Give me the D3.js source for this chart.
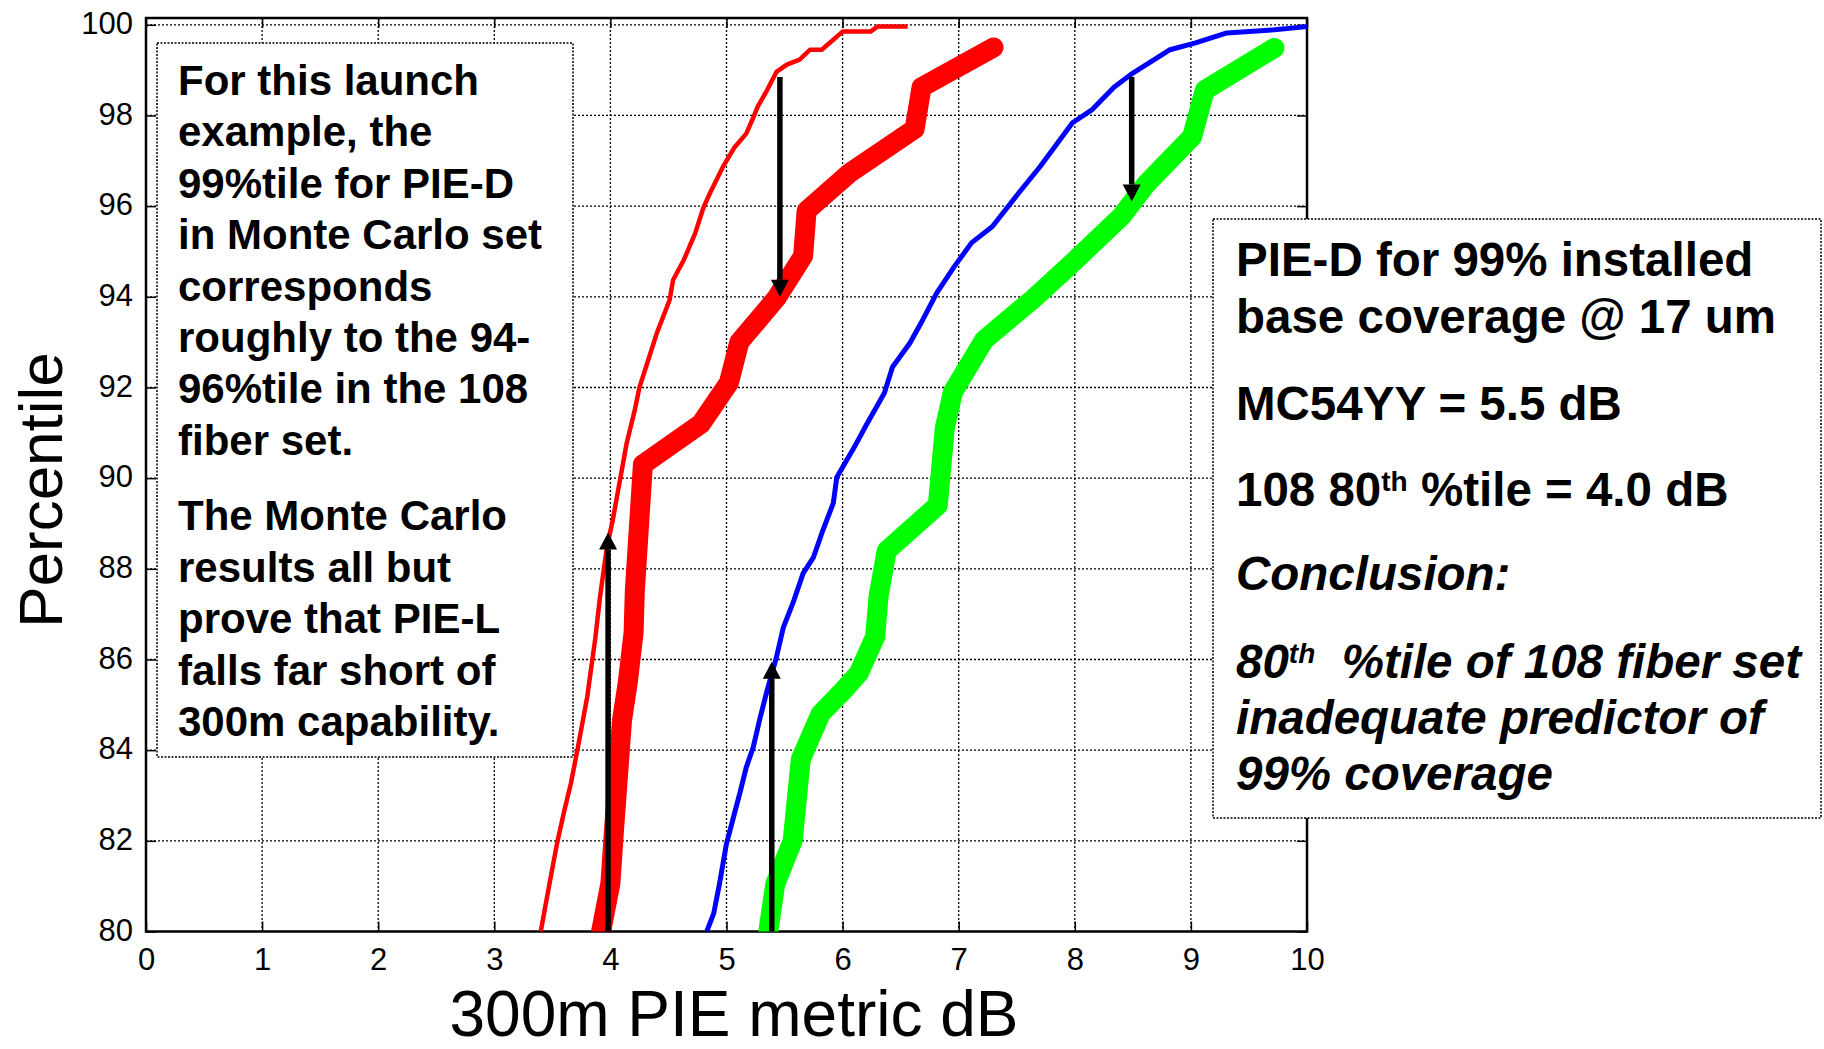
<!DOCTYPE html>
<html><head><meta charset="utf-8">
<script src="https://cdn.jsdelivr.net/npm/d3@7"></script>
<style>body{margin:0;background:#fff}svg{display:block}</style>
</head><body>
<svg id="chart" width="1824" height="1049"></svg>
<script>
// ---------- data ----------
const xTickValues = [0,1,2,3,4,5,6,7,8,9,10];
const yTickValues = [80,82,84,86,88,90,92,94,96,98,100];

// Monte Carlo PIE-L (thin red)
const mcPieL = [[3.40,80.0],[3.46,80.84],[3.54,81.94],[3.60,82.63],[3.66,83.27],[3.72,84.06],[3.80,85.17],[3.87,86.47],[3.91,87.37],[3.97,88.48],[4.02,89.07],[4.07,89.78],[4.14,90.77],[4.21,91.5],[4.25,92.0],[4.40,93.2],[4.51,93.93],[4.54,94.37],[4.63,94.8],[4.73,95.4],[4.80,95.96],[4.86,96.3],[4.97,96.87],[5.07,97.3],[5.17,97.6],[5.23,97.95],[5.27,98.2],[5.35,98.56],[5.43,98.96],[5.52,99.12],[5.63,99.23],[5.72,99.45],[5.82,99.45],[5.92,99.67],[6.0,99.85],[6.24,99.85],[6.30,99.96],[6.56,99.96]];
// 108 fiber set PIE-L (thick red)
const fiberPieL = [[3.92,80],[4.0,81.06],[4.03,82.2],[4.10,84.66],[4.15,85.5],[4.2,86.6],[4.21,87.5],[4.26,89.5],[4.28,90.3],[4.78,91.2],[5.02,92.1],[5.11,93.0],[5.43,93.97],[5.66,94.9],[5.69,95.9],[6.06,96.73],[6.62,97.7],[6.68,98.62],[7.30,99.5]];
// Monte Carlo PIE-D (blue)
const mcPieD = [[4.83,80],[4.89,80.4],[4.94,81.06],[5.0,81.94],[5.06,82.52],[5.12,83.1],[5.17,83.62],[5.23,84.06],[5.29,84.72],[5.35,85.32],[5.43,86.05],[5.49,86.71],[5.58,87.3],[5.66,87.9],[5.75,88.26],[5.83,88.85],[5.92,89.45],[5.95,90.02],[6.10,90.68],[6.21,91.2],[6.36,91.88],[6.43,92.45],[6.58,92.98],[6.69,93.49],[6.81,94.08],[6.96,94.66],[7.11,95.19],[7.29,95.55],[7.52,96.3],[7.70,96.87],[7.81,97.25],[7.98,97.84],[8.15,98.13],[8.34,98.63],[8.48,98.9],[8.64,99.16],[8.82,99.45],[9.04,99.6],[9.31,99.82],[9.72,99.89],[10.0,99.96]];
// 108 fiber set PIE-D (thick green)
const fiberPieD = [[5.36,80],[5.42,81.05],[5.57,82.0],[5.64,83.8],[5.81,84.8],[6.0,85.3],[6.14,85.7],[6.28,86.5],[6.31,87.4],[6.38,88.4],[6.82,89.4],[6.88,91.1],[6.95,91.9],[7.22,93.05],[7.64,93.95],[7.98,94.75],[8.4,95.77],[8.62,96.5],[9.01,97.53],[9.12,98.56],[9.72,99.49]];

// arrows
const arrowX    = [5.46, 8.49, 3.98, 5.39];
const arrowFrom = [98.85, 98.85, 80.0, 80.0];
const arrowTo   = [94.0, 96.1, 88.8, 85.95];

// texts
const xTitle = "300m PIE metric dB";
const yTitle = "Percentile";
const leftPara1 = ["For this launch","example, the","99%tile for PIE-D","in Monte Carlo set","corresponds","roughly to the 94-","96%tile in the 108","fiber set."];
const leftPara2 = ["The Monte Carlo","results all but","prove that PIE-L","falls far short of","300m capability."];
const rightLines = [
  {it:false, segs:[["PIE-D for 99% installed"]]},
  {it:false, segs:[["base coverage @ 17 um"]]},
  {it:false, segs:[["MC54YY = 5.5 dB"]]},
  {it:false, segs:[["108 80"],["th",1],[" %tile = 4.0 dB"]]},
  {it:true,  segs:[["Conclusion:"]]},
  {it:true,  segs:[["80"],["th",1],["  %tile of 108 fiber set"]]},
  {it:true,  segs:[["inadequate predictor of"]]},
  {it:true,  segs:[["99% coverage"]]}
];

// ---------- drawing ----------
const svg = d3.select("#chart");
const L = 146, R = 1307, T = 18, B = 931.5;
const x = d3.scaleLinear().domain([0,10]).range([L,R]);
const y = d3.scaleLinear().domain([80,100.15]).range([B,T]);
const FONT = "'Liberation Sans', Arial, Helvetica, sans-serif";

svg.append("rect").attr("width",1824).attr("height",1049).attr("fill","#fff");

// grid
const grid = svg.append("g").attr("stroke","#000").attr("stroke-width",1.3).attr("stroke-dasharray","2,2");
grid.selectAll("line.v").data(xTickValues.filter(v=>v>0&&v<10)).join("line")
  .attr("x1",d=>x(d)).attr("x2",d=>x(d)).attr("y1",T).attr("y2",B);
grid.selectAll("line.h").data(yTickValues.filter(v=>v>80)).join("line")
  .attr("class","h").attr("x1",L).attr("x2",R).attr("y1",d=>y(d)).attr("y2",d=>y(d));

// axes (D3 axes, inward ticks)
const tickLen = 10;
const axB = svg.append("g").attr("transform",`translate(0,${B})`)
  .call(d3.axisBottom(x).tickValues(xTickValues).tickSize(-tickLen).tickPadding(16).tickFormat(d3.format("d")));
const axL = svg.append("g").attr("transform",`translate(${L},0)`)
  .call(d3.axisLeft(y).tickValues(yTickValues).tickSize(-tickLen).tickPadding(13).tickFormat(d3.format("d")));
const axT = svg.append("g").attr("transform",`translate(0,${T})`)
  .call(d3.axisTop(x).tickValues(xTickValues).tickSize(-tickLen).tickFormat(""));
const axR = svg.append("g").attr("transform",`translate(${R},0)`)
  .call(d3.axisRight(y).tickValues(yTickValues).tickSize(-tickLen).tickFormat(""));
[axB,axL,axT,axR].forEach(a=>{
  a.select(".domain").remove();
  a.selectAll(".tick line").attr("stroke","#000").attr("stroke-width",1.5);
  a.selectAll("text").attr("font-family",FONT).attr("font-size",31).attr("fill","#000");
});
axB.selectAll("text").attr("dy","0.71em");
axL.selectAll("text").attr("dy","0.28em");
svg.append("rect").attr("x",L).attr("y",T).attr("width",R-L).attr("height",B-T)
  .attr("fill","none").attr("stroke","#000").attr("stroke-width",2.5);

// text boxes
function box(x0,y0,x1,y1){
  svg.append("rect").attr("x",x0).attr("y",y0).attr("width",x1-x0).attr("height",y1-y0)
    .attr("fill","#fff").attr("stroke","#000").attr("stroke-width",1.5).attr("stroke-dasharray","2,1.5");
}
box(157,43,573,757);
box(1213,219,1821,818);

const lt = svg.append("g").attr("font-family",FONT).attr("font-weight","bold").attr("font-size",42).attr("fill","#000");
lt.selectAll("text.p1").data(leftPara1).join("text").attr("class","p1")
  .attr("x",178).attr("y",(d,i)=>95+i*51.4).text(d=>d);
lt.selectAll("text.p2").data(leftPara2).join("text").attr("class","p2")
  .attr("x",178).attr("y",(d,i)=>530+i*51.5).text(d=>d);

const rBase = [276,333,420,506,590,678,734,790];
const rt = svg.append("g").attr("font-family",FONT).attr("font-weight","bold").attr("font-size",47.5).attr("fill","#000");
rightLines.forEach((ln,i)=>{
  const t = rt.append("text").attr("x",1236).attr("y",rBase[i]).style("white-space","pre")
    .attr("font-style",ln.it?"italic":"normal");
  let raised = false;
  ln.segs.forEach(s=>{
    const sp = t.append("tspan").text(s[0]);
    if(s[1]){ sp.attr("font-size",28).attr("dy",-15); raised = true; }
    else if(raised){ sp.attr("dy",15); raised = false; }
  });
});

// data lines (clipped)
svg.append("clipPath").attr("id","plotclip").append("rect")
  .attr("x",L).attr("y",T-20).attr("width",R-L+4).attr("height",B-T+20);
const plot = svg.append("g").attr("clip-path","url(#plotclip)");
const line = d3.line().x(d=>x(d[0])).y(d=>y(d[1]));
const series = [
  {d:fiberPieL, c:"#ff0000", w:20},
  {d:fiberPieD, c:"#00ff00", w:20},
  {d:mcPieL, c:"#ff0000", w:4.5},
  {d:mcPieD, c:"#0000ff", w:5}
];
plot.selectAll("path.s").data(series).join("path").attr("class","s")
  .attr("d",s=>line(s.d)).attr("fill","none").attr("stroke",s=>s.c).attr("stroke-width",s=>s.w)
  .attr("stroke-linecap",s=>s.w>10?"round":"butt").attr("stroke-linejoin","round");

// arrows
const ag = svg.append("g");
arrowX.forEach((ax,i)=>{
  const px = x(ax), y0 = y(arrowFrom[i]), y1 = y(arrowTo[i]);
  const dir = y1 > y0 ? 1 : -1; const hl = 17, hw = 9;
  ag.append("line").attr("x1",px).attr("x2",px).attr("y1",y0).attr("y2",y1 - dir*hl)
    .attr("stroke","#000").attr("stroke-width",5.5);
  ag.append("path").attr("d",`M${px},${y1} L${px-hw},${y1-dir*hl} L${px+hw},${y1-dir*hl} Z`).attr("fill","#000");
});

// axis titles
svg.append("text").attr("x",734).attr("y",1036).attr("text-anchor","middle")
  .attr("font-family",FONT).attr("font-size",64).attr("fill","#000").text(xTitle);
svg.append("text").attr("transform","translate(62,490) rotate(-90)").attr("text-anchor","middle")
  .attr("font-family",FONT).attr("font-size",62).attr("fill","#000").text(yTitle);
</script>
</body></html>
